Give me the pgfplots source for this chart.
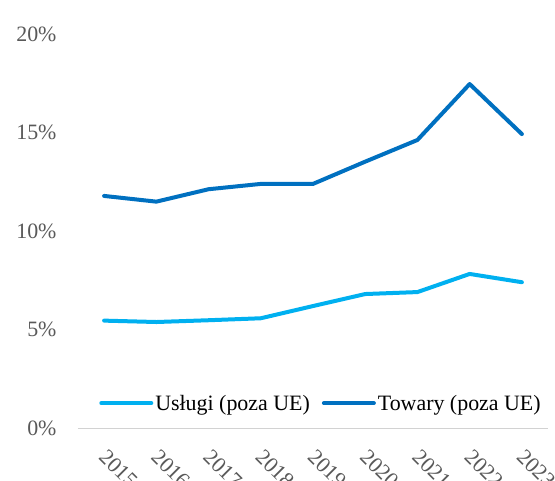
\documentclass[border=0pt]{standalone}
\usepackage{fontspec}
\setmainfont{Liberation Serif}
\usepackage{pgfplots}
\pgfplotsset{compat=1.18}

\definecolor{uslugi}{RGB}{0,176,240}
\definecolor{towary}{RGB}{0,112,192}
\definecolor{ticktext}{RGB}{89,89,89}

\begin{document}
\begin{tikzpicture}
\begin{axis}[
    scale only axis,
    width=470bp, height=394bp,
    xmin=-0.5, xmax=8.5,
    ymin=0, ymax=20,
    axis x line=bottom, axis y line=left,
    x axis line style={draw=gray!35, line width=1bp, -},
    y axis line style={draw=none},
    major tick length=0pt,
    xtick={0,...,8},
    xticklabels={2015,2016,2017,2018,2019,2020,2021,2022,2023},
    ytick={0,5,10,15,20},
    yticklabel={\pgfmathprintnumber{\tick}\%},
    /pgf/number format/assume math mode=true,
    tick label style={font=\fontsize{22}{24}\selectfont, text=ticktext},
    yticklabel style={xshift=-18bp},
    xticklabel style={xshift=4bp, yshift=-15bp, rotate=-45, anchor=north west},
    legend style={at={(0.517,0.063)}, anchor=center, draw=none, fill=none,
        legend columns=2, font=\fontsize{22}{24}\selectfont,
        /tikz/every even column/.append style={column sep=10bp}},
    legend image code/.code={\draw[#1] (0bp,0bp) -- (50bp,0bp);},
]
\addplot[uslugi, line width=4bp, line join=round, line cap=round] coordinates {
    (0,5.45) (1,5.38) (2,5.47) (3,5.57) (4,6.19) (5,6.80) (6,6.90) (7,7.82) (8,7.40)
};
\addlegendentry{Usługi (poza UE)}
\addplot[towary, line width=4bp, line join=round, line cap=round] coordinates {
    (0,11.78) (1,11.49) (2,12.12) (3,12.39) (4,12.39) (5,13.52) (6,14.62) (7,17.46) (8,14.92)
};
\addlegendentry{Towary (poza UE)}
\end{axis}
\pgfresetboundingbox
\useasboundingbox (-78bp,-53bp) rectangle (477bp,428bp);
\end{tikzpicture}
\end{document}
